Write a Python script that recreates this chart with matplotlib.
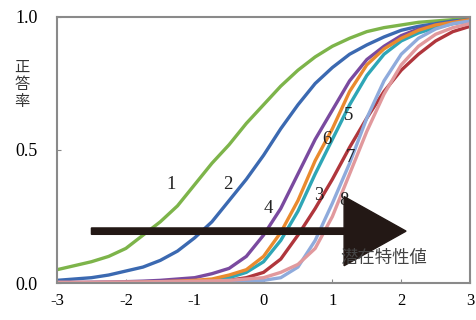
import matplotlib
matplotlib.use('Agg')
import matplotlib.pyplot as plt

# latent trait grid and proportion correct for each item
theta = [-3, -2.75, -2.5, -2.25, -2, -1.75, -1.5, -1.25, -1, -0.75, -0.5, -0.25,
         0, 0.25, 0.5, 0.75, 1, 1.25, 1.5, 1.75, 2, 2.25, 2.5, 2.75, 3]

item1 = [.05, .065, .08, .10, .13, .18, .23, .29, .37, .45, .52, .60, .67,
         .74, .80, .85, .89, .92, .945, .96, .97, .98, .985, .99, .993]
item2 = [.01, .015, .02, .03, .045, .06, .085, .12, .17, .23, .31, .39, .48,
         .58, .67, .75, .81, .86, .895, .925, .95, .965, .975, .985, .99]
item3 = [0, 0, 0, 0, .001, .001, .002, .002, .003, .006, .01, .02, .04,
         .09, .18, .28, .39, .51, .62, .72, .80, .86, .91, .945, .965]
item4 = [.002, .002, .003, .004, .005, .007, .01, .015, .02, .035, .055, .10, .18,
         .28, .41, .54, .65, .76, .84, .89, .93, .955, .97, .98, .99]
item5 = [0, 0, 0, .001, .001, .002, .003, .004, .005, .01, .02, .04, .08,
         .16, .27, .41, .54, .67, .78, .86, .91, .94, .96, .975, .985]
item6 = [0, 0, .001, .001, .002, .003, .005, .007, .01, .015, .03, .05, .10,
         .19, .31, .46, .58, .72, .82, .88, .92, .95, .97, .98, .99]
item7 = [0, 0, 0, 0, 0, 0, .001, .002, .003, .003, .003, .005, .01,
         .02, .06, .16, .30, .45, .62, .76, .86, .92, .955, .975, .985]
item8 = [.003, .003, .003, .004, .004, .004, .005, .006, .007, .008, .01, .015, .02,
         .04, .07, .13, .25, .41, .57, .71, .82, .89, .935, .96, .975]

items = ['1', '2', '3', '4', '5', '6', '7', '8']
curves = [item1, item2, item3, item4, item5, item6, item7, item8]
colors = ['#7db44a', '#3b69b1', '#b0363c', '#7a4a9f',
          '#2ea6b6', '#ea8a2e', '#8fabdc', '#e1999d']
label_xy = [(-1.35, 0.37), (-0.52, 0.37), (0.8, 0.33), (0.07, 0.28),
            (1.24, 0.63), (0.92, 0.54), (1.26, 0.47), (1.17, 0.31)]

fig = plt.figure(figsize=(4.77, 3.2), dpi=100)
ax = fig.add_axes([0.1195, 0.1156, 0.866, 0.8313])

for name, ys, col, (lx, ly) in zip(items, curves, colors, label_xy):
    ax.plot(theta, ys, color=col, linewidth=2.4, solid_joinstyle='round')
    ax.text(lx, ly, name, fontsize=13.5, family='Liberation Serif',
            ha='center', va='center', color='#222222')

# big arrow along the latent trait
ax.arrow(-2.5, 0.195, 4.57, 0, width=0.024, head_width=0.26, head_length=0.9,
         length_includes_head=True, color='#231815', zorder=5)

ax.text(1.75, 0.095, '潜在特性値', fontsize=12.5, family='Noto Sans CJK JP',
        ha='center', va='center', color='#444444', zorder=6)

ax.set_xlim(-3, 3)
ax.set_ylim(0, 1)
ax.set_xticks([-3, -2, -1, 0, 1, 2, 3])
ax.set_xticklabels(['-3', '-2', '-1', '0', '1', '2', '3'],
                   family='Liberation Serif', fontsize=12)
ax.set_yticks([0, 0.5, 1.0])
ax.set_yticklabels(['0.0', '0.5', '1.0'], family='Liberation Serif', fontsize=13)
ax.tick_params(direction='in', length=3, color='#888888', pad=7)
ax.tick_params(axis='y', pad=14)

for side in ['top', 'right', 'bottom', 'left']:
    ax.spines[side].set_color('#8a8a8a')
    ax.spines[side].set_linewidth(1.5)

fig.text(0.046, 0.735, '正\n答\n率', fontsize=11, family='Noto Sans CJK JP',
         ha='center', va='center', linespacing=1.0, color='#333333')

fig.savefig('out.png', dpi=100)
